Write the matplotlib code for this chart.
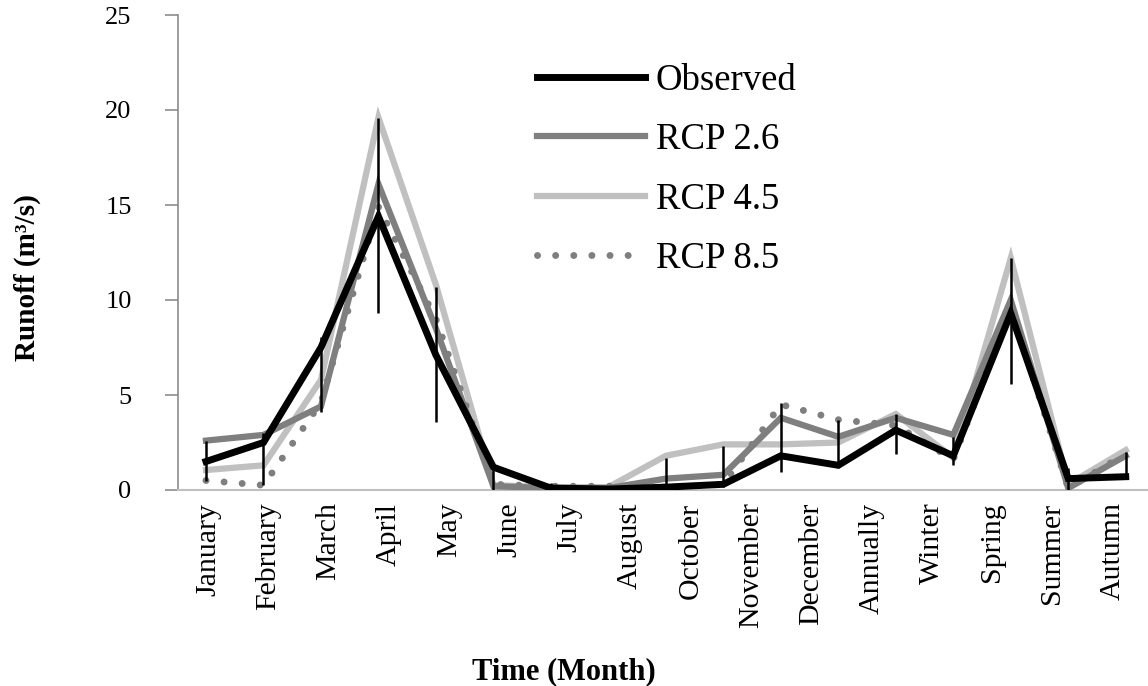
import numpy as np
import matplotlib
matplotlib.use("Agg")
import matplotlib.pyplot as plt

plt.rcParams['font.family'] = ['Liberation Serif', 'DejaVu Serif']

# ---- data ----
tick_labels = ["January", "February", "March", "April", "May", "June", "July",
               "August", "October", "November", "December", "Annually",
               "Winter", "Spring", "Summer", "Autumn"]
# 17 plotted periods (the figure shows 16 labels)
observed = [1.5, 2.5, 7.5, 14.4, 7.1, 1.2, 0.1, 0.05, 0.15, 0.3, 1.8, 1.3, 3.15, 1.8, 9.3, 0.6, 0.7]
rcp26    = [2.6, 2.9, 4.4, 16.1, 8.5, 0.2, 0.1, 0.1, 0.6, 0.8, 3.8, 2.8, 3.8, 2.9, 10.0, 0.1, 1.8]
rcp45    = [1.05, 1.3, 5.8, 19.6, 10.8, 0.25, 0.15, 0.15, 1.8, 2.4, 2.4, 2.5, 4.0, 1.7, 12.2, 0.3, 2.1]
rcp85    = [0.5, 0.25, 4.6, 14.9, 9.0, 0.3, 0.2, 0.2, 0.15, 0.3, 4.5, 3.7, 3.4, 1.6, 9.6, 0.1, 1.9]
err_low  = [0.5, 0.26, 4.1, 9.3, 3.6, 0.0, 0.0, np.nan, 0.0, 0.15, 0.95, 1.2, 1.9, 1.3, 5.6, 0.0, 0.7]
err_high = [2.6, 3.0, 8.05, 19.6, 10.7, 1.3, 0.35, np.nan, 1.7, 2.3, 4.6, 3.7, 4.0, 2.8, 12.2, 1.15, 2.0]

W, H = 1148, 686
fig = plt.figure(figsize=(W / 100, H / 100), dpi=100)
ax = fig.add_axes([178 / W, 1 - 490 / H, (1147 - 178) / W, (490 - 15) / H])

x = np.arange(len(observed))

ax.plot(x, rcp45, color='#c0c0c0', lw=4.5, solid_joinstyle='miter', label='RCP 4.5', zorder=2)
ax.plot(x, rcp26, color='#7f7f7f', lw=4.5, solid_joinstyle='miter', label='RCP 2.6', zorder=3)
ax.plot(x, rcp85, color='#7f7f7f', lw=5, linestyle=(0, (0.01, 2.6)),
        dash_capstyle='round', label='RCP 8.5', zorder=4)
ax.plot(x, observed, color='black', lw=5, solid_joinstyle='miter', label='Observed', zorder=5)
ax.vlines(x, err_low, err_high, color='black', lw=1.8, zorder=6)

ax.set_ylim(0, 25)
ax.set_xlim(-0.487, 16.37)
ax.set_yticks([0, 5, 10, 15, 20, 25])

tick_pos = np.linspace(0.035, 15.77, len(tick_labels))
ax.set_xticks(tick_pos)
ax.set_xticklabels(tick_labels, rotation=90, fontsize=21.5)
ax.tick_params(axis='x', length=0, pad=9)
ax.tick_params(axis='y', length=9.4, width=1.2, color='#8c8c8c', pad=24, labelsize=19)

for s in ['top', 'right']:
    ax.spines[s].set_visible(False)
ax.spines['left'].set_color('#8c8c8c')
ax.spines['left'].set_linewidth(1.2)
ax.spines['bottom'].set_color('#c0c0c0')
ax.spines['bottom'].set_linewidth(1.5)

fig.text(27 / W, 1 - 278 / H, 'Runoff (m³/s)', rotation=90, ha='center', va='center',
         fontsize=21, fontweight='bold')
fig.text(564 / W, 1 - 672 / H, 'Time (Month)', ha='center', va='center',
         fontsize=22, fontweight='bold')

handles, labels = ax.get_legend_handles_labels()
order = [labels.index(l) for l in ['Observed', 'RCP 2.6', 'RCP 4.5', 'RCP 8.5']]
ax.legend([handles[i] for i in order], [labels[i] for i in order],
          loc='upper left', bbox_to_anchor=(537 / W, 1 - 63 / H),
          bbox_transform=fig.transFigure, frameon=False, fontsize=26.5,
          handlelength=2.93, handletextpad=0.3, labelspacing=0.68,
          borderpad=0, borderaxespad=0)

fig.savefig('out.png', dpi=100)
